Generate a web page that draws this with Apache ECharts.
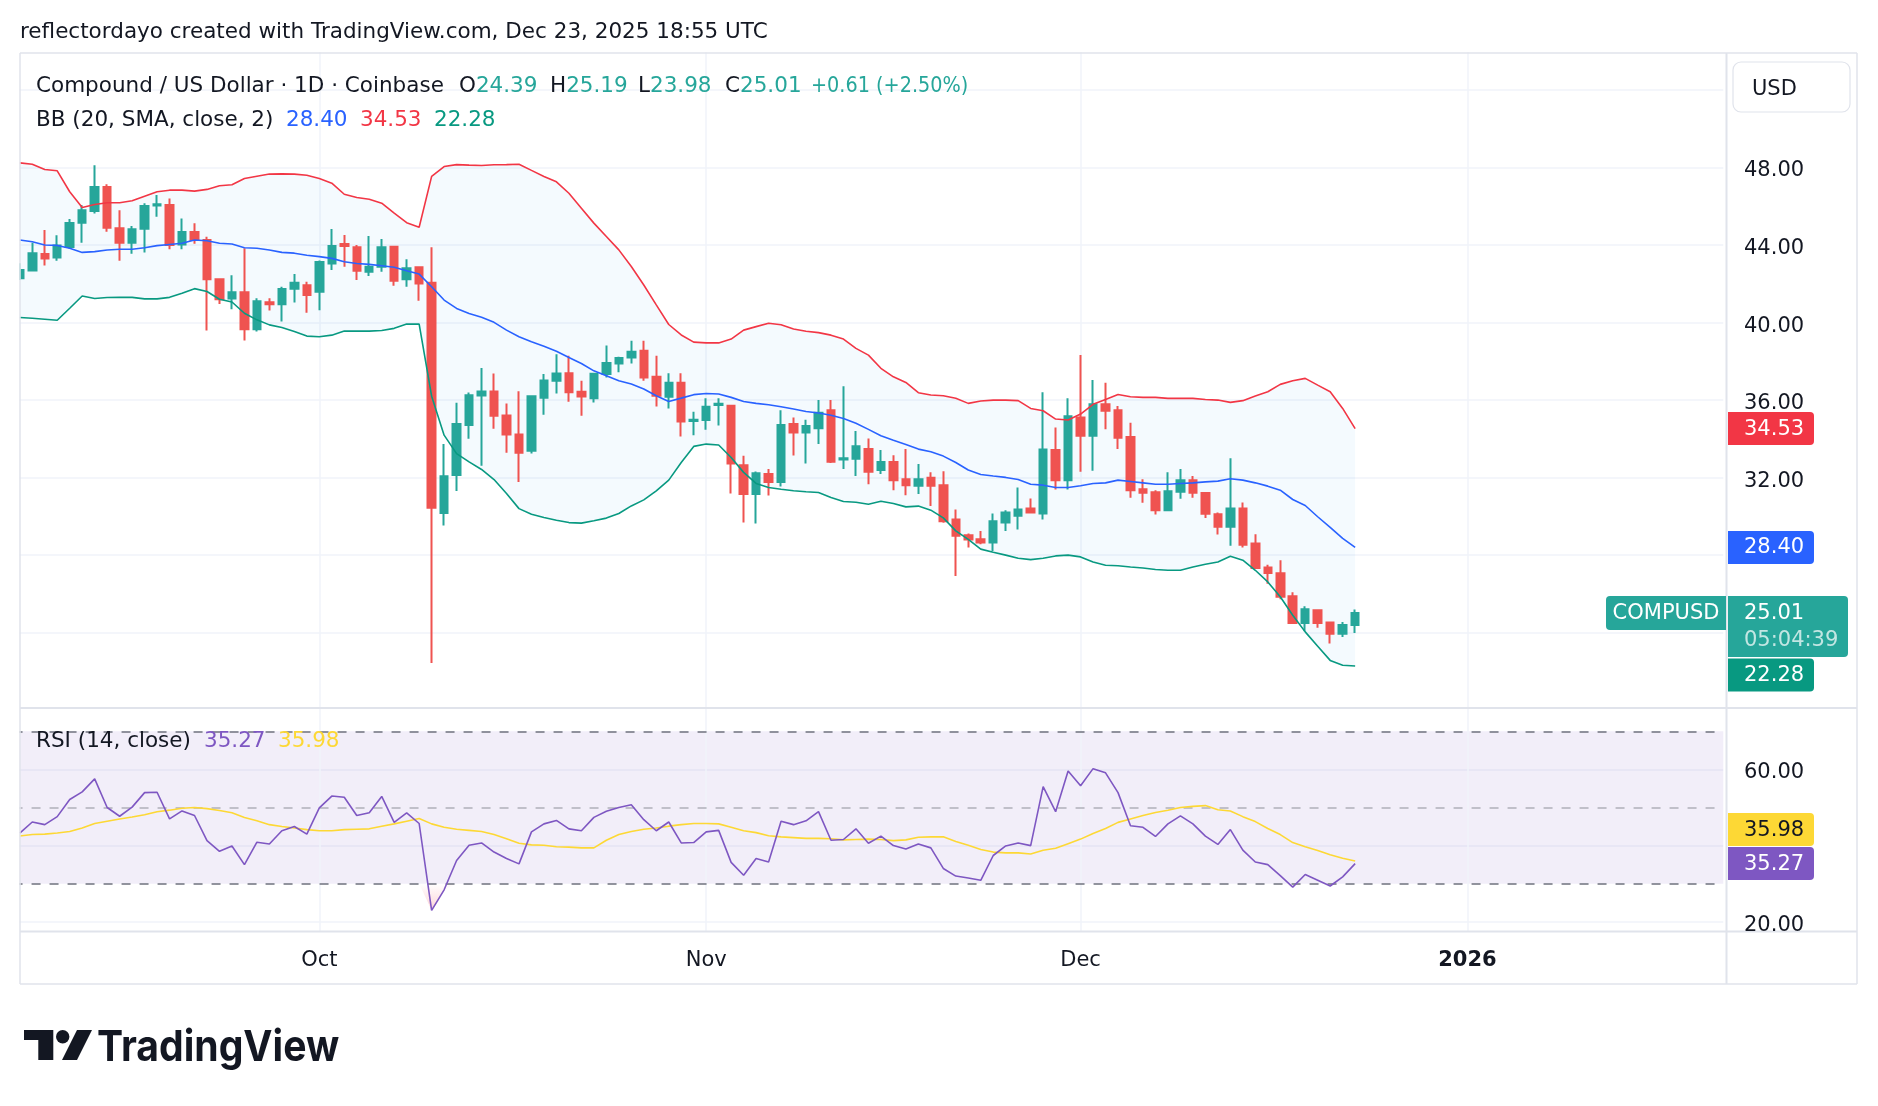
<!DOCTYPE html>
<html>
<head>
<meta charset="utf-8">
<title>Compound / US Dollar</title>
<script src="https://cdn.jsdelivr.net/npm/echarts@6.0.0/dist/echarts.min.js"></script>
<style>
  html, body { margin: 0; padding: 0; background: #fff; }
  #chart { width: 1878px; height: 1106px; }
</style>
</head>
<body>
<div id="chart"></div>
<script>
// daily candles, first one is 2025-09-07
var FIRST_DAY = Date.UTC(2025, 8, 7);
var SLOT_COUNT = 137; // days visible on the time scale (data + empty right margin)
var monthLabels = { "2025-10-01": "Oct", "2025-11-01": "Nov", "2025-12-01": "Dec", "2026-01-01": "2026" };
var priceTicks = [32, 36, 40, 44, 48];
var rsiTicks = [20, 60];

var opens = [42.28, 42.68, 43.54, 43.35, 43.90, 45.15, 45.75, 46.99, 44.86, 44.12,
  44.84, 46.04, 46.06, 44.03, 44.67, 44.26, 42.23, 41.24, 41.56, 39.66,
  41.05, 40.94, 41.75, 41.93, 41.59, 43.05, 44.05, 43.88, 42.62, 42.88,
  43.91, 42.23, 42.85, 42.06, 30.18, 32.14, 34.72, 36.24, 36.44, 35.21,
  34.22, 33.38, 36.12, 37.00, 37.38, 36.43, 36.09, 37.34, 37.89, 38.20,
  38.55, 37.20, 36.17, 36.90, 34.92, 34.97, 35.74, 35.71, 32.64, 31.15,
  32.18, 31.78, 34.76, 34.33, 34.55, 35.48, 32.94, 32.97, 33.47, 32.39,
  32.80, 31.92, 31.58, 31.99, 31.61, 29.84, 29.03, 28.82, 28.65, 29.68,
  30.03, 30.41, 30.15, 33.42, 31.87, 35.10, 34.16, 35.79, 35.48, 34.09,
  31.40, 31.25, 30.32, 31.27, 31.87, 31.20, 30.11, 29.46, 30.41, 28.60,
  27.36, 27.07, 25.88, 24.50, 25.16, 24.52, 23.95, 24.39];
var highs = [43.06, 44.12, 44.77, 44.51, 45.34, 46.06, 48.12, 47.14, 45.80, 44.98,
  46.15, 46.58, 46.40, 45.37, 45.12, 44.43, 42.28, 42.44, 43.83, 41.25,
  41.25, 41.85, 42.51, 42.11, 43.20, 44.83, 44.52, 44.00, 44.46, 44.31,
  43.95, 43.26, 42.90, 43.88, 33.73, 35.86, 36.39, 37.65, 37.37, 35.82,
  36.46, 36.25, 37.34, 38.37, 38.29, 37.00, 37.40, 38.81, 38.24, 39.06,
  39.06, 38.29, 37.39, 37.39, 35.40, 36.10, 36.10, 35.76, 33.13, 32.32,
  32.44, 35.48, 35.10, 34.98, 36.00, 36.00, 36.72, 34.40, 34.02, 33.42,
  33.16, 33.47, 32.70, 32.28, 32.33, 30.35, 29.12, 29.25, 30.15, 30.32,
  31.49, 30.92, 36.40, 34.59, 36.09, 38.32, 37.03, 36.90, 35.69, 34.83,
  31.92, 31.35, 32.28, 32.44, 32.08, 31.20, 30.20, 33.00, 30.72, 29.08,
  27.51, 27.74, 26.09, 25.36, 25.16, 24.52, 24.55, 25.19];
var lows = [42.20, 42.65, 42.94, 43.19, 43.81, 44.12, 45.63, 44.69, 43.19, 43.55,
  43.62, 45.46, 43.78, 43.78, 44.07, 39.59, 40.96, 40.69, 39.07, 39.54,
  40.62, 40.05, 41.03, 40.51, 40.64, 42.71, 42.88, 42.19, 42.40, 42.62,
  41.90, 41.85, 41.13, 22.43, 29.53, 31.31, 34.00, 32.61, 34.52, 33.28,
  31.78, 33.24, 35.24, 36.34, 35.91, 35.19, 35.88, 37.17, 37.43, 37.89,
  37.00, 35.67, 35.57, 34.12, 34.18, 34.47, 34.69, 31.18, 29.68, 29.63,
  31.08, 31.54, 33.14, 32.73, 33.73, 32.76, 32.45, 32.08, 31.66, 32.18,
  31.35, 31.09, 31.15, 30.54, 29.67, 26.93, 28.39, 28.56, 28.22, 29.25,
  29.32, 30.18, 29.84, 31.39, 31.39, 32.30, 32.35, 34.50, 33.47, 30.96,
  30.70, 30.10, 30.32, 30.91, 30.96, 29.92, 29.06, 28.48, 28.39, 27.34,
  26.53, 25.73, 24.50, 24.07, 24.26, 23.44, 23.78, 23.98];
var closes = [42.71, 43.57, 43.30, 43.97, 45.13, 45.80, 46.99, 44.89, 44.12, 44.82,
  46.01, 46.11, 44.00, 44.67, 44.26, 42.23, 41.20, 41.56, 39.66, 41.10,
  40.94, 41.73, 42.06, 41.42, 43.12, 43.95, 43.95, 42.67, 42.88, 43.88,
  42.16, 42.80, 42.02, 30.45, 32.07, 34.76, 36.25, 36.44, 35.19, 34.22,
  33.28, 36.20, 37.01, 37.37, 36.40, 36.19, 37.36, 37.91, 38.17, 38.50,
  37.17, 36.22, 36.90, 34.90, 34.98, 35.66, 35.81, 32.73, 31.15, 32.23,
  31.78, 34.71, 34.33, 34.66, 35.35, 32.82, 33.00, 33.62, 32.30, 32.80,
  31.87, 31.61, 31.92, 31.58, 29.75, 29.00, 28.81, 28.65, 29.75, 30.20,
  30.35, 30.20, 33.45, 31.87, 35.17, 34.16, 35.79, 35.45, 34.06, 31.35,
  31.22, 30.32, 31.30, 31.87, 31.22, 30.13, 29.46, 30.41, 28.53, 27.34,
  27.08, 25.85, 24.50, 25.21, 24.50, 23.95, 24.40, 25.01];

// Bollinger Bands (20, SMA, close, 2)
var bbUpper = [48.24, 48.17, 47.90, 47.83, 46.75, 45.94, 46.09, 46.18, 46.18, 46.28,
  46.52, 46.75, 46.83, 46.83, 46.78, 46.87, 47.06, 47.11, 47.43, 47.55,
  47.66, 47.67, 47.66, 47.60, 47.43, 47.19, 46.62, 46.45, 46.36, 46.16,
  45.64, 45.15, 44.92, 47.54, 48.05, 48.15, 48.12, 48.10, 48.14, 48.15,
  48.17, 47.85, 47.54, 47.26, 46.67, 45.90, 45.13, 44.44, 43.75, 42.89,
  41.94, 40.91, 39.90, 39.36, 38.99, 38.95, 38.95, 39.15, 39.61, 39.79,
  39.96, 39.89, 39.67, 39.55, 39.48, 39.35, 39.15, 38.67, 38.32, 37.64,
  37.20, 36.91, 36.38, 36.26, 36.22, 36.09, 35.83, 35.95, 36.00, 36.00,
  35.97, 35.57, 35.45, 35.02, 34.97, 35.28, 35.78, 36.03, 36.29, 36.17,
  36.14, 36.14, 36.09, 36.09, 36.09, 36.03, 36.00, 35.88, 35.97, 36.21,
  36.43, 36.81, 37.00, 37.12, 36.77, 36.43, 35.57, 34.53];
var bbBasis = [44.26, 44.17, 44.00, 43.98, 43.83, 43.62, 43.66, 43.74, 43.78, 43.78,
  43.86, 43.97, 44.03, 44.09, 44.26, 44.22, 44.09, 44.05, 43.86, 43.83,
  43.74, 43.62, 43.58, 43.47, 43.40, 43.31, 43.14, 43.05, 43.00, 42.93,
  42.85, 42.67, 42.50, 41.85, 41.16, 40.73, 40.47, 40.27, 40.01, 39.61,
  39.27, 39.01, 38.78, 38.52, 38.20, 37.89, 37.51, 37.26, 37.00, 36.83,
  36.57, 36.22, 35.93, 36.10, 36.28, 36.34, 36.31, 36.14, 35.93, 35.83,
  35.76, 35.66, 35.54, 35.41, 35.33, 35.22, 35.05, 34.80, 34.49, 34.16,
  33.93, 33.71, 33.47, 33.33, 33.11, 32.78, 32.39, 32.16, 32.08, 32.01,
  31.90, 31.66, 31.61, 31.49, 31.49, 31.58, 31.70, 31.73, 31.87, 31.80,
  31.73, 31.66, 31.66, 31.70, 31.73, 31.78, 31.82, 31.94, 31.87, 31.73,
  31.56, 31.35, 30.87, 30.56, 29.98, 29.43, 28.86, 28.40];
var bbLower = [40.26, 40.22, 40.17, 40.12, 40.74, 41.37, 41.24, 41.29, 41.30, 41.30,
  41.22, 41.22, 41.30, 41.51, 41.75, 41.60, 41.20, 41.06, 40.48, 40.14,
  39.88, 39.74, 39.54, 39.30, 39.27, 39.35, 39.56, 39.56, 39.56, 39.59,
  39.70, 39.92, 39.92, 36.20, 34.19, 33.24, 32.81, 32.42, 31.90, 31.18,
  30.40, 30.11, 29.94, 29.80, 29.68, 29.65, 29.77, 29.91, 30.15, 30.54,
  30.85, 31.32, 31.87, 32.78, 33.61, 33.73, 33.68, 33.04, 32.27, 31.70,
  31.49, 31.40, 31.32, 31.27, 31.23, 30.97, 30.77, 30.73, 30.63, 30.78,
  30.66, 30.49, 30.53, 30.32, 29.92, 29.25, 28.81, 28.31, 28.15, 28.00,
  27.84, 27.77, 27.84, 27.96, 28.00, 27.91, 27.65, 27.48, 27.45, 27.39,
  27.34, 27.26, 27.22, 27.22, 27.39, 27.53, 27.65, 27.94, 27.74, 27.22,
  26.62, 25.85, 24.90, 24.04, 23.30, 22.57, 22.32, 22.28];

var rsi = [43.3, 46.2, 45.5, 47.6, 52.1, 54.1, 57.5, 50.0, 47.7, 50.1,
  53.9, 54.0, 47.0, 49.1, 47.9, 41.3, 38.5, 39.9, 35.0, 40.9,
  40.4, 43.9, 45.0, 43.0, 49.9, 53.0, 52.7, 47.9, 48.6, 52.9,
  46.1, 48.6, 45.8, 23.0, 28.4, 36.1, 40.1, 40.7, 38.3, 36.6,
  35.2, 43.6, 45.7, 46.6, 44.4, 43.9, 47.4, 49.0, 50.0, 50.7,
  46.8, 43.9, 46.2, 40.7, 40.8, 43.6, 44.0, 35.6, 32.2, 36.6,
  35.7, 46.4, 45.5, 46.5, 48.9, 41.4, 41.6, 44.4, 40.6, 42.5,
  40.0, 39.1, 40.4, 39.4, 34.0, 32.0, 31.5, 30.9, 37.4, 39.9,
  40.7, 40.0, 55.5, 48.9, 59.6, 55.7, 60.2, 59.1, 53.9, 45.2,
  44.8, 42.4, 45.7, 47.8, 45.7, 42.5, 40.3, 44.2, 38.8, 35.7,
  35.0, 32.1, 29.1, 32.4, 30.9, 29.4, 31.8, 35.27];
var rsiMa = [42.5, 42.9, 43.0, 43.3, 43.7, 44.6, 45.8, 46.4, 47.0, 47.5,
  48.1, 48.9, 49.3, 49.8, 50.0, 49.7, 49.2, 48.6, 47.4, 46.5,
  45.5, 45.0, 44.6, 44.2, 43.9, 43.9, 44.2, 44.3, 44.4, 45.1,
  45.7, 46.4, 47.1, 45.7, 44.8, 44.3, 44.0, 43.7, 42.9, 41.8,
  40.6, 40.2, 40.1, 39.7, 39.6, 39.4, 39.4, 41.4, 42.9, 43.7,
  44.3, 44.6, 45.1, 45.5, 45.8, 45.8, 45.7, 44.8, 43.9, 43.4,
  42.6, 42.3, 42.1, 41.9, 41.9, 41.8, 41.5, 41.6, 41.7, 41.6,
  41.3, 41.5, 42.2, 42.3, 42.3, 41.1, 40.1, 39.0, 38.3, 38.1,
  38.1, 37.8, 38.8, 39.3, 40.5, 41.7, 43.2, 44.5, 46.1, 47.0,
  47.9, 48.7, 49.3, 50.0, 50.3, 50.5, 49.4, 49.1, 47.6, 46.3,
  44.5, 42.9, 40.8, 39.7, 38.7, 37.6, 36.7, 35.98];

var UP = "#26a69a";
var DOWN = "#ef5350";
var TEXT = "#131722";
var GRID_LINE = "#f0f3fa";
var BORDER = "#e0e3eb";
var FONT = '"DejaVu Sans", sans-serif';
var FS = 21.5;      // legend / header text
var AXIS_FS = 21;   // scale labels
var BB_UP = "#F23645", BB_MID = "#2962FF", BB_LOW = "#089981";
var RSI_COLOR = "#7E57C2", RSI_MA_COLOR = "#FDD835";

var dates = [];
for (var i = 0; i < SLOT_COUNT; i++) {
  dates.push(new Date(FIRST_DAY + i * 86400000).toISOString().slice(0, 10));
}

var candleData = opens.map(function (o, i) {
  return [o, closes[i], lows[i], highs[i]];
});
var bandWidth = bbUpper.map(function (u, i) {
  return +(u - bbLower[i]).toFixed(2);
});
// part of the RSI under the 30 level, for the oversold fill
var oversold = rsi.map(function (v) { return Math.min(v, 30); });

var monthDays = Object.keys(monthLabels);
var priceVLines = monthDays.map(function (d) {
  return [{ coord: [d, 20.13] }, { coord: [d, 53.94] }];
});
var rsiVLines = monthDays.map(function (d) {
  return [{ coord: [d, 17.45] }, { coord: [d, 76.2] }];
});

var GRID_LEFT = 13.56;
var GRID_RIGHT = 154.7;

function plainLine(name, data, color, xi, z) {
  return {
    name: name,
    type: "line",
    xAxisIndex: xi,
    yAxisIndex: xi,
    data: data,
    symbol: "none",
    silent: true,
    z: z,
    lineStyle: { color: color, width: 1.6 }
  };
}

var chart = echarts.init(document.getElementById("chart"));

var option = {
  animation: false,
  backgroundColor: "#ffffff",
  textStyle: { fontFamily: FONT },
  grid: [
    { left: GRID_LEFT, right: GRID_RIGHT, top: 51.2, height: 659.0 },
    { left: GRID_LEFT, right: GRID_RIGHT, top: 693.2, height: 304.8 },
    { left: GRID_LEFT, right: GRID_RIGHT, top: 931, height: 1 }
  ],
  xAxis: [0, 1, 2].map(function (k) {
    return {
      type: "category",
      gridIndex: k,
      data: dates,
      boundaryGap: true,
      axisLine: { show: false },
      axisTick: { show: false },
      splitLine: { show: false },
      axisLabel: k < 2 ? { show: false } : {
        show: true,
        margin: 18,
        color: TEXT,
        fontSize: AXIS_FS,
        fontFamily: FONT,
        interval: function (idx, val) { return monthLabels[val] !== undefined; },
        formatter: function (val) {
          var s = monthLabels[val] || "";
          return s === "2026" ? "{b|" + s + "}" : s;
        },
        rich: { b: { fontWeight: "bold", fontSize: AXIS_FS, fontFamily: FONT, color: TEXT } }
      }
    };
  }),
  yAxis: [
    {
      type: "value",
      gridIndex: 0,
      position: "right",
      min: 20,
      max: 54,
      interval: 4,
      axisLine: { show: false },
      axisTick: { show: false },
      axisLabel: { show: false },
      splitLine: {
        lineStyle: {
          width: 1.5,
          color: ["rgba(0,0,0,0)", GRID_LINE, GRID_LINE, GRID_LINE, GRID_LINE,
            GRID_LINE, GRID_LINE, GRID_LINE, GRID_LINE, "rgba(0,0,0,0)"]
        }
      }
    },
    {
      type: "value",
      gridIndex: 1,
      position: "right",
      min: 0,
      max: 80,
      interval: 20,
      axisLine: { show: false },
      axisTick: { show: false },
      axisLabel: { show: false },
      splitLine: {
        lineStyle: {
          width: 1.5,
          color: ["rgba(0,0,0,0)", GRID_LINE, GRID_LINE, GRID_LINE, "rgba(0,0,0,0)"]
        }
      }
    },
    { type: "value", gridIndex: 2, min: 0, max: 1, show: false }
  ],
  series: [
    {
      name: "bbBase",
      type: "line",
      xAxisIndex: 0,
      yAxisIndex: 0,
      data: bbLower,
      stack: "bb",
      symbol: "none",
      silent: true,
      z: 1,
      lineStyle: { opacity: 0 }
    },
    {
      name: "bbFill",
      type: "line",
      xAxisIndex: 0,
      yAxisIndex: 0,
      data: bandWidth,
      stack: "bb",
      symbol: "none",
      silent: true,
      z: 1,
      lineStyle: { opacity: 0 },
      areaStyle: { color: "rgba(33,150,243,0.05)", opacity: 1 }
    },
    {
      name: "COMPUSD",
      type: "candlestick",
      xAxisIndex: 0,
      yAxisIndex: 0,
      data: candleData,
      barWidth: 8,
      z: 2,
      itemStyle: {
        color: UP,
        color0: DOWN,
        borderColor: UP,
        borderColor0: DOWN,
        borderWidth: 2
      },
      markLine: {
        silent: true,
        z: 1,
        symbol: ["none", "none"],
        label: { show: false },
        lineStyle: { color: GRID_LINE, width: 1.5, type: "solid" },
        data: priceVLines
      }
    },
    plainLine("Upper", bbUpper, BB_UP, 0, 3),
    plainLine("Basis", bbBasis, BB_MID, 0, 3),
    plainLine("Lower", bbLower, BB_LOW, 0, 3),
    {
      name: "Oversold fill",
      type: "line",
      xAxisIndex: 1,
      yAxisIndex: 1,
      data: oversold,
      symbol: "none",
      silent: true,
      z: 2,
      lineStyle: { opacity: 0 },
      areaStyle: {
        origin: 30,
        opacity: 1,
        color: new echarts.graphic.LinearGradient(0, 0, 0, 1, [
          { offset: 0, color: "rgba(242,54,69,0)" },
          { offset: 1, color: "rgba(242,54,69,0.22)" }
        ])
      }
    },
    (function () {
      var s = plainLine("RSI-based MA", rsiMa, RSI_MA_COLOR, 1, 3);
      s.markLine = {
        silent: true,
        z: 1,
        symbol: ["none", "none"],
        label: { show: false },
        lineStyle: { color: GRID_LINE, width: 1.5, type: "solid" },
        data: rsiVLines
      };
      return s;
    })(),
    (function () {
      var s = plainLine("RSI", rsi, RSI_COLOR, 1, 4);
      s.markArea = {
        silent: true,
        z: 0,
        itemStyle: { color: "rgba(126,87,194,0.1)" },
        data: [[{ yAxis: 30 }, { yAxis: 70 }]]
      };
      s.markLine = {
        silent: true,
        z: 1,
        symbol: ["none", "none"],
        label: { show: false },
        data: [
          { yAxis: 70, lineStyle: { color: "#787b86", width: 1.6, type: [9, 9] } },
          { yAxis: 50, lineStyle: { color: "rgba(120,123,134,0.5)", width: 1.6, type: [9, 9] } },
          { yAxis: 30, lineStyle: { color: "#787b86", width: 1.6, type: [9, 9] } }
        ]
      };
      return s;
    })()
  ]
};

chart.setOption(option);

// ---- overlay: header, legends, frame, scale labels, price tags, logo ----
function text(x, y, str, color, size, extra) {
  var st = {
    text: str,
    fill: color || TEXT,
    font: (extra && extra.weight ? extra.weight + " " : "") + (size || FS) + "px " + (extra && extra.family ? extra.family : FONT),
    align: extra && extra.align ? extra.align : "left",
    textAlign: extra && extra.align ? extra.align : "left",
    verticalAlign: "middle",
    textVerticalAlign: "middle"
  };
  return { type: "text", x: x, y: y, z: 120, silent: true, style: st };
}
function hline(x1, x2, y, color, w) {
  return { type: "line", z: 110, silent: true, shape: { x1: x1, y1: y, x2: x2, y2: y }, style: { stroke: color, lineWidth: w } };
}
function vline(x, y1, y2, color, w) {
  return { type: "line", z: 110, silent: true, shape: { x1: x, y1: y1, x2: x, y2: y2 }, style: { stroke: color, lineWidth: w } };
}
function tag(y, h, w, fill, label, labelColor) {
  return [
    { type: "rect", z: 115, silent: true, shape: { x: 1728, y: y, width: w, height: h, r: [0, 4, 4, 0] }, style: { fill: fill } },
    text(1744, y + 17, label, labelColor || "#ffffff", AXIS_FS)
  ];
}

function py(v) { return chart.convertToPixel({ yAxisIndex: 0 }, v); }
function ry(v) { return chart.convertToPixel({ yAxisIndex: 1 }, v); }

var last = closes.length - 1;
var change = closes[last] - closes[last - 1];
var g = [];

// white margin left of the frame
g.push({ type: "rect", z: 100, silent: true, shape: { x: 0, y: 40, width: 19.5, height: 960 }, style: { fill: "#ffffff" } });

// frame and pane separators
g.push(hline(20, 1857, 53, BORDER, 1.5));
g.push(hline(20, 1857, 984, BORDER, 1.5));
g.push(vline(20, 53, 984, BORDER, 1.5));
g.push(vline(1857, 53, 984, BORDER, 1.5));
g.push(hline(20, 1857, 708, BORDER, 2));
g.push(hline(20, 1857, 931.5, BORDER, 2));
g.push(vline(1726.5, 53, 984, BORDER, 2));

// scale labels, placed through the axes
var LABEL_DY = 3.5;
priceTicks.forEach(function (v) {
  g.push(text(1744, py(v) + LABEL_DY, v.toFixed(2), TEXT, AXIS_FS));
});
rsiTicks.forEach(function (v) {
  g.push(text(1744, ry(v) + LABEL_DY, v.toFixed(2), TEXT, AXIS_FS));
});

// title
g.push(text(20, 32, "reflectordayo created with TradingView.com, Dec 23, 2025 18:55 UTC", TEXT, FS));

// symbol legend
g.push(text(36, 86, "Compound / US Dollar \u00b7 1D \u00b7 Coinbase", TEXT, FS));
[["O", opens[last], 459], ["H", highs[last], 550], ["L", lows[last], 638], ["C", closes[last], 725]].forEach(function (p) {
  var t = text(p[2], 86, "", TEXT, FS);
  t.style.text = "{k|" + p[0] + "}{v|" + p[1].toFixed(2) + "}";
  t.style.rich = {
    k: { fill: TEXT, font: FS + "px " + FONT },
    v: { fill: UP, font: FS + "px " + FONT }
  };
  g.push(t);
});
var chg = text(811, 86, "+" + change.toFixed(2) + " (+" + (change / closes[last - 1] * 100).toFixed(2) + "%)", UP, FS);
chg.scaleX = 0.895;
g.push(chg);

// BB legend
g.push(text(36, 120, "BB (20, SMA, close, 2)", TEXT, FS));
g.push(text(286, 120, bbBasis[last].toFixed(2), BB_MID, FS));
g.push(text(360, 120, bbUpper[last].toFixed(2), BB_UP, FS));
g.push(text(434, 120, bbLower[last].toFixed(2), BB_LOW, FS));

// RSI legend
g.push(text(36, 741, "RSI (14, close)", TEXT, FS));
g.push(text(204, 741, rsi[last].toFixed(2), RSI_COLOR, FS));
g.push(text(278, 741, rsiMa[last].toFixed(2), RSI_MA_COLOR, FS));

// currency box
g.push({ type: "rect", z: 115, silent: true, shape: { x: 1733, y: 62, width: 117, height: 50, r: 8 }, style: { fill: "#ffffff", stroke: BORDER, lineWidth: 1.2 } });
g.push(text(1752, 90, "USD", TEXT, AXIS_FS));

// price scale tags
var TAG_H = 33;
g = g.concat(tag(py(bbUpper[last]) - TAG_H / 2, TAG_H, 86, BB_UP, bbUpper[last].toFixed(2)));
g = g.concat(tag(py(bbBasis[last]) - TAG_H / 2, TAG_H, 86, BB_MID, bbBasis[last].toFixed(2)));

var closeTop = py(closes[last]) - 17;
g.push({ type: "rect", z: 115, silent: true, shape: { x: 1728, y: closeTop, width: 120, height: 61, r: [0, 4, 4, 0] }, style: { fill: UP } });
g.push(text(1744, closeTop + 17.5, closes[last].toFixed(2), "#ffffff", AXIS_FS));
g.push(text(1744, closeTop + 44.5, "05:04:39", "rgba(255,255,255,0.72)", AXIS_FS));
g.push({ type: "rect", z: 115, silent: true, shape: { x: 1606, y: closeTop, width: 120, height: 34, r: [4, 0, 0, 4] }, style: { fill: UP } });
g.push(text(1666, closeTop + 17.5, "COMPUSD", "#ffffff", AXIS_FS, { align: "center" }));

var lowTop = Math.max(py(bbLower[last]) - TAG_H / 2, closeTop + 61 + 1.5);
g = g.concat(tag(lowTop, TAG_H, 86, BB_LOW, bbLower[last].toFixed(2)));

var rsiTop = ry(rsi[last]) - TAG_H / 2;
var maTop = Math.min(ry(rsiMa[last]) - TAG_H / 2, rsiTop - TAG_H - 1);
g = g.concat(tag(maTop, TAG_H, 86, RSI_MA_COLOR, rsiMa[last].toFixed(2), TEXT));
g = g.concat(tag(rsiTop, TAG_H, 86, RSI_COLOR, rsi[last].toFixed(2)));

// TradingView logo
g.push({ type: "polygon", z: 120, silent: true, shape: { points: [[24, 1030], [53.3, 1030], [53.3, 1060], [38.3, 1060], [38.3, 1040], [24, 1040]] }, style: { fill: TEXT } });
g.push({ type: "circle", z: 120, silent: true, shape: { cx: 62.7, cy: 1036.7, r: 6.7 }, style: { fill: TEXT } });
g.push({ type: "polygon", z: 120, silent: true, shape: { points: [[77, 1030], [92, 1030], [77, 1060], [62, 1060]] }, style: { fill: TEXT } });
var logoText = text(97, 1048, "TradingView", TEXT, 43, { weight: "bold", family: "Inter, sans-serif" });
logoText.scaleX = 0.91;
g.push(logoText);

chart.setOption({ graphic: { elements: g } });
</script>
</body>
</html>
